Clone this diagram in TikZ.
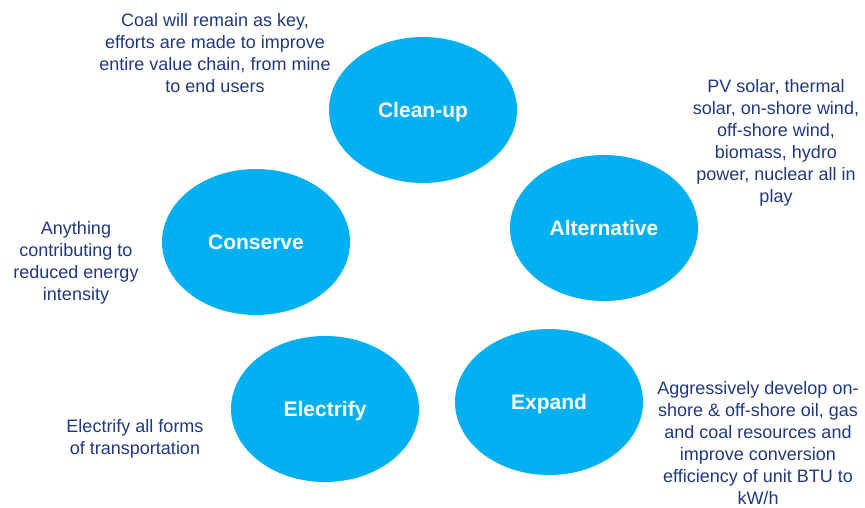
\documentclass[tikz,border=0pt]{standalone}
\usepackage{fontspec}
\setmainfont{Liberation Sans}
\usetikzlibrary{shapes.geometric}
\definecolor{skyblue}{RGB}{0,176,240}
\definecolor{navytext}{RGB}{31,56,128}

\begin{document}
\begin{tikzpicture}
[x=1pt,y=-1pt,
bubble/.style={ellipse,fill=skyblue,inner sep=0pt,minimum width=188pt,minimum height=146pt,
  text=white,text height=15pt,text depth=0pt,font=\bfseries\fontsize{21}{25}\selectfont},
note/.style={align=center,text=navytext,inner sep=0pt,font=\fontsize{18}{22}\selectfont}]
\useasboundingbox (0,0) rectangle (865,508);
% the five bubbles
\node[bubble] (cleanup) at (423,110) {Clean-up};
\node[bubble] (alternative) at (604,228) {Alternative};
\node[bubble] (conserve) at (256,242) {Conserve};
\node[bubble] (electrify) at (325,409) {Electrify};
\node[bubble] (expand) at (549,402) {Expand};
% notes beside them
\node[note] (cleanupnote) at (215,53) {Coal will remain as key,\\efforts are made to improve\\entire value chain, from mine\\to end users};
\node[note] (alternativenote) at (776,143) {PV solar, thermal\\solar, on-shore wind,\\off-shore wind,\\biomass, hydro\\power, nuclear all in\\play};
\node[note] (conservenote) at (76,263) {Anything\\contributing to\\reduced energy\\intensity};
\node[note] (electrifynote) at (135,439) {Electrify all forms\\of transportation};
\node[note] (expandnote) at (758,443) {Aggressively develop on-\\shore \& off-shore oil, gas\\and coal resources and\\improve conversion\\efficiency of unit BTU to\\kW/h};
\end{tikzpicture}
\end{document}
